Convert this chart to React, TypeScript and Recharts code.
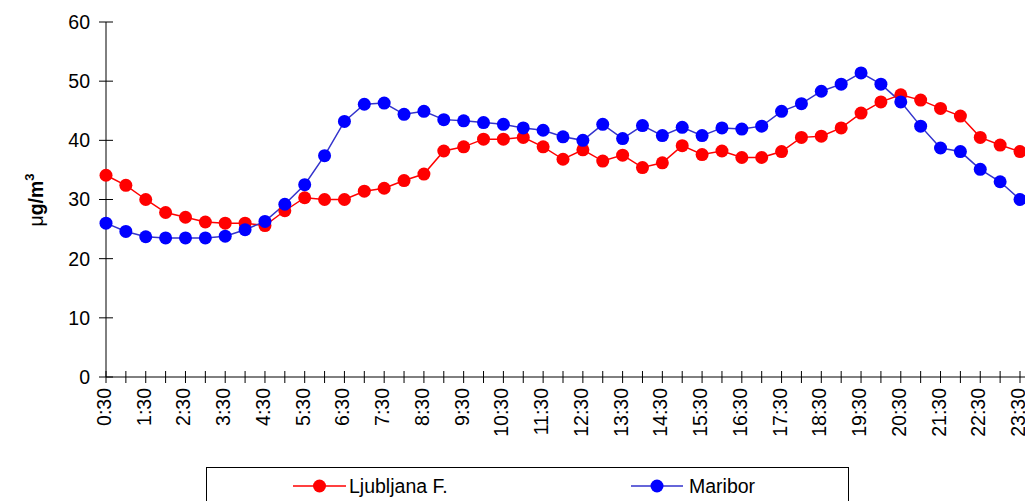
import React from 'react';
import { LineChart, Line, XAxis, YAxis, Legend } from 'recharts';

const timeLabels = [
  '0:30', '1:00', '1:30', '2:00', '2:30', '3:00', '3:30', '4:00', '4:30', '5:00',
  '5:30', '6:00', '6:30', '7:00', '7:30', '8:00', '8:30', '9:00', '9:30', '10:00',
  '10:30', '11:00', '11:30', '12:00', '12:30', '13:00', '13:30', '14:00', '14:30', '15:00',
  '15:30', '16:00', '16:30', '17:00', '17:30', '18:00', '18:30', '19:00', '19:30', '20:00',
  '20:30', '21:00', '21:30', '22:00', '22:30', '23:00', '23:30',
];

const ljubljana = [
  34.1, 32.4, 30.0, 27.8, 27.0, 26.2, 26.0, 26.0, 25.6, 28.1,
  30.3, 30.0, 30.0, 31.4, 31.9, 33.2, 34.3, 38.2, 38.9, 40.2,
  40.2, 40.5, 38.9, 36.8, 38.4, 36.5, 37.5, 35.4, 36.2, 39.1,
  37.6, 38.2, 37.1, 37.1, 38.1, 40.5, 40.7, 42.1, 44.6, 46.5,
  47.7, 46.8, 45.4, 44.1, 40.5, 39.2, 38.1,
];

const maribor = [
  26.0, 24.6, 23.7, 23.5, 23.5, 23.5, 23.8, 24.9, 26.3, 29.2,
  32.5, 37.4, 43.2, 46.1, 46.3, 44.4, 44.9, 43.5, 43.3, 43.0,
  42.7, 42.1, 41.7, 40.6, 40.0, 42.7, 40.3, 42.5, 40.8, 42.2,
  40.8, 42.1, 41.9, 42.4, 44.9, 46.2, 48.3, 49.5, 51.4, 49.5,
  46.5, 42.4, 38.7, 38.1, 35.1, 33.0, 30.0,
];

const yTicks = [0, 10, 20, 30, 40, 50, 60];

const seriesNames = { lj: 'Ljubljana F.', mb: 'Maribor' };

const data = timeLabels.map((t, i) => ({ t, lj: ljubljana[i], mb: maribor[i] }));

const FONT = '"Liberation Sans", Arial, Helvetica, sans-serif';
const FS = 19.5;

const RED = '#FF0000';
const BLUE_DOT = '#0000FF';
const BLUE_LINE = '#3333CC';

const XTick = (props: any) => {
  const { x, y, index, payload } = props;
  return (
    <g>
      <line x1={x} x2={x} y1={y - 6} y2={y + 6} stroke="#000" strokeWidth={1} />
      {index % 2 === 0 && (
        <text
          transform={`translate(${x + 5},${y + 11}) rotate(-90)`}
          textAnchor="end"
          fontSize={FS}
          fontFamily={FONT}
          fill="#000"
        >
          {payload.value}
        </text>
      )}
    </g>
  );
};

const YTick = (props: any) => {
  const { x, y, payload } = props;
  return (
    <g>
      <line x1={x - 7} x2={x + 7} y1={y} y2={y} stroke="#000" strokeWidth={1} />
      <text x={x - 16} y={y} dy="0.355em" textAnchor="end" fontSize={FS} fontFamily={FONT} fill="#000">
        {payload.value}
      </text>
    </g>
  );
};

const YLabel = () => (
  <text
    transform="translate(43,200) rotate(-90)"
    textAnchor="middle"
    fontSize={19.5}
    fontWeight="bold"
    fontFamily={FONT}
    fill="#000"
  >
    <tspan fontWeight="normal">μ</tspan>g/m<tspan dy={-9} fontSize={13}>3</tspan>
  </text>
);

const LegendContent = () => (
  <svg width={643} height={40} style={{ display: 'block' }}>
    <line x1={86} x2={139} y1={18} y2={18} stroke={RED} strokeWidth={1.5} />
    <circle cx={112.5} cy={18} r={6.5} fill={RED} />
    <text x={142} y={18} dy="0.355em" fontSize={FS} fontFamily={FONT} fill="#000">
      {seriesNames.lj}
    </text>
    <line x1={424} x2={476} y1={18} y2={18} stroke={BLUE_LINE} strokeWidth={1.5} />
    <circle cx={450} cy={18} r={6.5} fill={BLUE_DOT} />
    <text x={482} y={18} dy="0.355em" fontSize={FS} fontFamily={FONT} fill="#000">
      {seriesNames.mb}
    </text>
  </svg>
);

export default function App() {
  return (
    <div style={{ position: 'absolute', left: 0, top: 0, width: 1025, height: 501, overflow: 'hidden', background: '#fff' }}>
      <LineChart
        width={1045}
        height={501}
        data={data}
        margin={{ top: 22, right: 0, bottom: 0, left: 0 }}
        style={{ fontFamily: FONT }}
      >
        <XAxis
          dataKey="t"
          type="category"
          scale="point"
          padding={{ left: 0, right: 25 }}
          interval={0}
          height={124}
          tickSize={0}
          tickMargin={0}
          tickLine={false}
          axisLine={{ stroke: '#000', strokeWidth: 1 }}
          tick={<XTick />}
        />
        <YAxis
          type="number"
          domain={[0, 60]}
          ticks={yTicks}
          interval={0}
          width={106}
          tickSize={0}
          tickMargin={0}
          tickLine={false}
          axisLine={{ stroke: '#000', strokeWidth: 1 }}
          tick={<YTick />}
          label={{ content: () => <YLabel /> }}
        />
        <Legend
          layout="horizontal"
          verticalAlign="middle"
          align="center"
          content={() => <LegendContent />}
          wrapperStyle={{
            position: 'absolute',
            left: 206,
            top: 467,
            width: 643,
            height: 40,
            border: '1px solid #000',
            boxSizing: 'border-box',
            background: '#fff',
          }}
        />
        <Line
          dataKey="lj"
          name={seriesNames.lj}
          stroke={RED}
          strokeWidth={1.5}
          dot={{ r: 6.5, fill: RED, stroke: RED, strokeWidth: 0 }}
          activeDot={false}
          isAnimationActive={false}
        />
        <Line
          dataKey="mb"
          name={seriesNames.mb}
          stroke={BLUE_LINE}
          strokeWidth={1.5}
          dot={{ r: 6.5, fill: BLUE_DOT, stroke: BLUE_DOT, strokeWidth: 0 }}
          activeDot={false}
          isAnimationActive={false}
        />
      </LineChart>
    </div>
  );
}
